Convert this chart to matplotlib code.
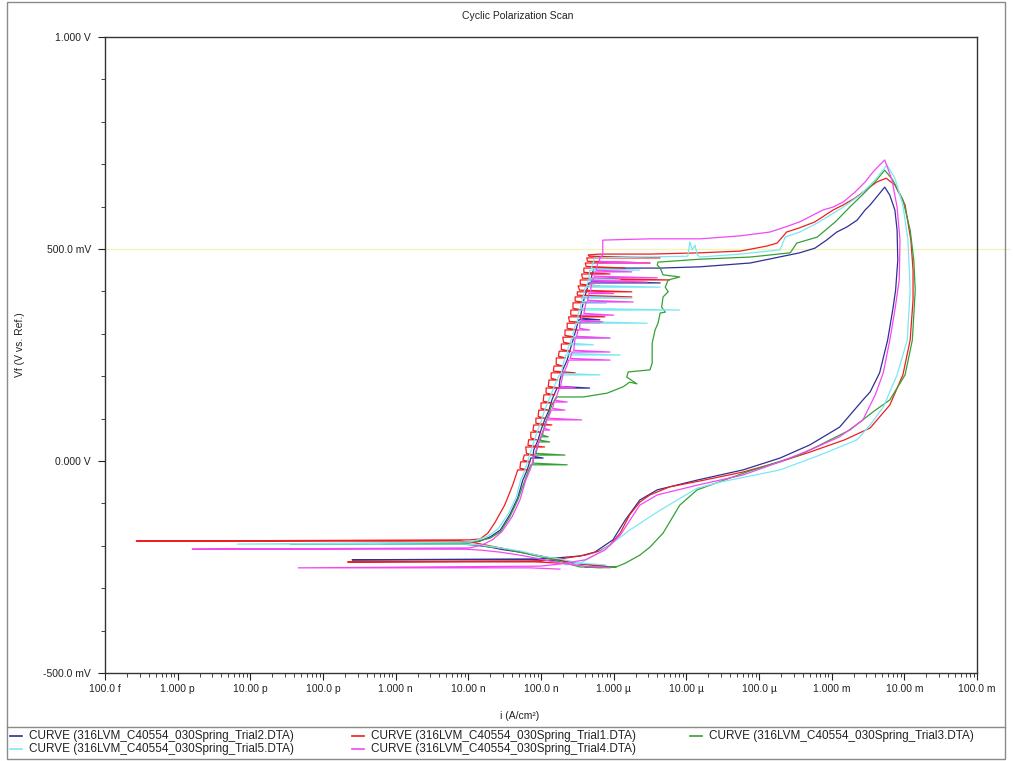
import numpy as np
import matplotlib
matplotlib.use("Agg")
import matplotlib.pyplot as plt
from matplotlib.lines import Line2D
from matplotlib.patches import Rectangle
from matplotlib.ticker import FixedLocator, FixedFormatter, LogLocator, NullFormatter, MultipleLocator

plt.rcParams['font.family'] = ['Liberation Sans', 'DejaVu Sans']

TITLE = "Cyclic Polarization Scan"
X_LABEL = "i (A/cm²)"
Y_LABEL = "Vf (V vs. Ref.)"

x_ticks = [1e-13, 1e-12, 1e-11, 1e-10, 1e-9, 1e-8, 1e-7, 1e-6, 1e-5, 1e-4, 1e-3, 1e-2, 1e-1]
x_tick_labels = ["100.0 f", "1.000 p", "10.00 p", "100.0 p", "1.000 n", "10.00 n", "100.0 n",
                 "1.000 µ", "10.00 µ", "100.0 µ", "1.000 m", "10.00 m", "100.0 m"]
y_ticks = [-0.5, 0.0, 0.5, 1.0]
y_tick_labels = ["-500.0 mV", "0.000 V", "500.0 mV", "1.000 V"]
marker_potential = 0.5

# Scans as (log10 current density [A/cm²], potential [V]) pairs, forward sweep then reverse.
trial2_scan = [
    (-6.01, -0.250), (-6.33, -0.245), (-6.57, -0.241), (-6.81, -0.231), (-7.01, -0.224), (-7.29, -0.215),
    (-7.56, -0.208), (-7.70, -0.203), (-7.91, -0.198), (-8.05, -0.196), (-9.19, -0.196), (-7.98, -0.193),
    (-7.84, -0.189), (-7.70, -0.179), (-7.56, -0.163), (-7.43, -0.127), (-7.32, -0.087), (-7.25, -0.045),
    (-7.19, -0.021), (-7.14, 0.007), (-6.97, 0.007), (-7.11, 0.011), (-7.10, 0.026), (-7.04, 0.050),
    (-7.00, 0.073), (-6.95, 0.097), (-6.89, 0.120), (-6.85, 0.144), (-6.78, 0.172), (-6.33, 0.172),
    (-6.75, 0.176), (-6.74, 0.191), (-6.70, 0.215), (-6.64, 0.238), (-6.60, 0.262), (-6.56, 0.285),
    (-6.52, 0.309), (-6.48, 0.333), (-6.19, 0.333), (-6.46, 0.337), (-6.44, 0.356), (-6.41, 0.380),
    (-6.37, 0.403), (-6.34, 0.420), (-5.36, 0.420), (-6.31, 0.424), (-6.30, 0.439), (-6.27, 0.455),
    (-5.91, 0.455), (-5.36, 0.455), (-4.81, 0.458), (-4.12, 0.467), (-3.44, 0.491), (-3.23, 0.502),
    (-3.07, 0.521), (-2.93, 0.540), (-2.79, 0.552), (-2.65, 0.568), (-2.54, 0.592), (-2.47, 0.604),
    (-2.36, 0.627), (-2.27, 0.646),
    (-2.20, 0.627), (-2.13, 0.592), (-2.10, 0.545), (-2.09, 0.474), (-2.12, 0.403), (-2.16, 0.356),
    (-2.23, 0.285), (-2.34, 0.208), (-2.47, 0.163), (-2.57, 0.144), (-2.89, 0.080), (-3.30, 0.038),
    (-3.71, 0.007), (-4.22, -0.021), (-4.85, -0.045), (-5.40, -0.068), (-5.64, -0.092), (-5.84, -0.139),
    (-6.01, -0.186), (-6.26, -0.215), (-6.46, -0.224), (-6.81, -0.229), (-7.08, -0.231), (-9.60, -0.233),
    (-7.15, -0.233), (-6.74, -0.236),
]

trial1_scan = [
    (-6.12, -0.248), (-6.53, -0.241), (-6.95, -0.226), (-7.36, -0.212), (-7.63, -0.203), (-7.91, -0.193),
    (-8.11, -0.189), (-12.57, -0.189), (-7.98, -0.186), (-7.84, -0.184), (-7.73, -0.170), (-7.63, -0.144),
    (-7.50, -0.104), (-7.39, -0.057),
    (-7.32, -0.021), (-7.18, -0.021), (-7.29, -0.017), (-7.28, -0.002), (-7.15, -0.002), (-7.25, 0.002),
    (-7.23, 0.014), (-7.11, 0.014), (-7.20, 0.018), (-7.21, 0.033), (-6.95, 0.033), (-7.18, 0.037),
    (-7.17, 0.050), (-7.06, 0.050), (-7.14, 0.054), (-7.14, 0.068), (-7.01, 0.068), (-7.11, 0.072),
    (-7.10, 0.085), (-6.85, 0.085), (-7.07, 0.089), (-7.07, 0.101), (-6.95, 0.101), (-7.04, 0.105),
    (-7.03, 0.120), (-6.90, 0.120), (-7.00, 0.124), (-7.00, 0.137), (-6.85, 0.137), (-6.97, 0.141),
    (-6.96, 0.156), (-6.81, 0.156), (-6.93, 0.160), (-6.93, 0.172), (-6.74, 0.172), (-6.90, 0.176),
    (-6.89, 0.191), (-6.77, 0.191), (-6.86, 0.195), (-6.86, 0.208), (-6.53, 0.208), (-6.83, 0.212),
    (-6.82, 0.224), (-6.70, 0.224), (-6.79, 0.228), (-6.79, 0.243), (-6.66, 0.243), (-6.76, 0.247),
    (-6.75, 0.259), (-6.59, 0.259), (-6.72, 0.263), (-6.72, 0.276), (-6.57, 0.276), (-6.69, 0.280),
    (-6.70, 0.292), (-6.50, 0.292), (-6.67, 0.296), (-6.67, 0.309), (-6.49, 0.309), (-6.64, 0.313),
    (-6.64, 0.325), (-6.19, 0.325), (-6.61, 0.329), (-6.62, 0.340), (-6.12, 0.340), (-6.59, 0.344),
    (-6.59, 0.356), (-6.42, 0.356), (-6.56, 0.360), (-6.56, 0.373), (-6.33, 0.373), (-6.53, 0.377),
    (-6.53, 0.387), (-5.75, 0.387), (-6.50, 0.391), (-6.50, 0.399), (-5.75, 0.399), (-6.47, 0.403),
    (-6.49, 0.413), (-6.19, 0.413), (-6.46, 0.417), (-6.46, 0.427), (-5.23, 0.427), (-6.43, 0.431),
    (-6.44, 0.441), (-6.05, 0.441), (-6.41, 0.445), (-6.41, 0.455), (-5.84, 0.455), (-6.38, 0.459),
    (-6.39, 0.467), (-5.50, 0.467), (-6.36, 0.471), (-6.37, 0.479), (-5.36, 0.479), (-6.34, 0.483),
    (-6.35, 0.486), (-6.19, 0.488), (-5.50, 0.488), (-4.81, 0.491), (-4.26, 0.495), (-3.89, 0.507),
    (-3.75, 0.514), (-3.62, 0.540), (-3.44, 0.550), (-3.23, 0.564), (-2.98, 0.592), (-2.84, 0.604),
    (-2.68, 0.620), (-2.53, 0.639), (-2.38, 0.658), (-2.25, 0.667),
    (-2.13, 0.651), (-1.99, 0.604), (-1.91, 0.521), (-1.88, 0.450), (-1.88, 0.380), (-1.92, 0.285),
    (-2.02, 0.203), (-2.20, 0.132), (-2.47, 0.078), (-2.82, 0.050), (-3.30, 0.021), (-3.71, -0.002),
    (-4.22, -0.026), (-4.81, -0.047), (-5.23, -0.061), (-5.50, -0.080), (-5.64, -0.097), (-5.78, -0.127),
    (-5.91, -0.170), (-6.05, -0.198), (-6.19, -0.212), (-6.39, -0.222), (-6.74, -0.231), (-7.01, -0.236),
    (-9.66, -0.238), (-7.08, -0.238), (-6.74, -0.241),
]

trial3_scan = [
    (-5.97, -0.250), (-6.19, -0.250), (-6.46, -0.250), (-6.57, -0.245), (-6.81, -0.233), (-7.01, -0.226),
    (-7.29, -0.215), (-7.56, -0.205), (-7.70, -0.203), (-7.91, -0.198), (-8.11, -0.196), (-10.45, -0.196),
    (-8.05, -0.193), (-7.87, -0.189), (-7.70, -0.182), (-7.56, -0.167), (-7.43, -0.132), (-7.32, -0.092),
    (-7.22, -0.045), (-7.17, -0.021),
    (-7.14, -0.009), (-6.64, -0.009), (-7.11, -0.005), (-7.10, 0.014), (-6.67, 0.014), (-7.07, 0.018),
    (-7.03, 0.045), (-6.88, 0.045), (-7.01, 0.049), (-7.00, 0.057), (-6.90, 0.057), (-6.98, 0.061),
    (-6.95, 0.085), (-6.90, 0.108), (-6.85, 0.132), (-6.79, 0.151),
    (-6.42, 0.151), (-6.09, 0.160), (-5.87, 0.175), (-5.78, 0.186), (-5.68, 0.182), (-5.82, 0.198),
    (-5.80, 0.210), (-5.50, 0.215), (-5.47, 0.231), (-5.47, 0.278), (-5.43, 0.309), (-5.39, 0.325),
    (-5.36, 0.349), (-5.29, 0.351), (-5.34, 0.363), (-5.32, 0.387), (-5.25, 0.399), (-5.29, 0.410),
    (-5.25, 0.427), (-5.09, 0.434), (-5.32, 0.439), (-5.36, 0.455), (-5.40, 0.462), (-5.39, 0.469),
    (-4.81, 0.476), (-4.12, 0.481), (-3.57, 0.491), (-3.48, 0.514), (-3.20, 0.528), (-2.95, 0.564),
    (-2.75, 0.599), (-2.54, 0.634), (-2.38, 0.663), (-2.27, 0.686),
    (-2.16, 0.663), (-2.02, 0.616), (-1.92, 0.545), (-1.87, 0.474), (-1.85, 0.403), (-1.89, 0.285),
    (-1.99, 0.203), (-2.20, 0.144), (-2.43, 0.116), (-2.75, 0.073), (-3.44, 0.014), (-4.17, -0.026),
    (-4.85, -0.068), (-5.09, -0.104), (-5.32, -0.170), (-5.50, -0.203), (-5.64, -0.222), (-5.84, -0.241),
    (-5.97, -0.250), (-6.19, -0.252), (-6.39, -0.250),
]

trial5_scan = [
    (-6.12, -0.245), (-6.46, -0.241), (-6.74, -0.231), (-7.01, -0.224), (-7.29, -0.212), (-7.56, -0.205),
    (-7.84, -0.198), (-8.05, -0.196), (-11.18, -0.196), (-7.98, -0.191), (-7.87, -0.186), (-7.73, -0.177),
    (-7.59, -0.160), (-7.45, -0.125), (-7.34, -0.085), (-7.28, -0.045), (-7.22, -0.021), (-7.17, 0.007),
    (-7.11, 0.038), (-7.06, 0.066), (-7.00, 0.092), (-6.95, 0.120), (-6.88, 0.149), (-6.81, 0.179),
    (-6.75, 0.203), (-6.19, 0.203), (-6.72, 0.207), (-6.70, 0.226), (-6.66, 0.250), (-5.91, 0.250),
    (-6.64, 0.254), (-6.62, 0.274), (-6.28, 0.274), (-6.60, 0.278), (-6.58, 0.290), (-6.05, 0.290),
    (-6.55, 0.294), (-6.56, 0.302), (-6.52, 0.325), (-5.54, 0.325), (-6.50, 0.329), (-6.48, 0.356),
    (-5.09, 0.356), (-6.46, 0.360), (-6.45, 0.372), (-6.10, 0.372), (-6.43, 0.376), (-6.44, 0.384),
    (-5.75, 0.384), (-6.42, 0.388), (-6.39, 0.410), (-5.36, 0.410), (-6.37, 0.414), (-6.35, 0.427),
    (-5.91, 0.427), (-6.34, 0.431), (-6.33, 0.450), (-5.64, 0.450), (-6.31, 0.454), (-6.28, 0.469),
    (-6.26, 0.479), (-5.64, 0.481), (-4.98, 0.483), (-4.95, 0.517), (-4.92, 0.498), (-4.88, 0.509),
    (-4.85, 0.486), (-4.81, 0.481), (-4.26, 0.488), (-3.71, 0.498), (-3.64, 0.528), (-3.44, 0.540),
    (-3.20, 0.561), (-3.02, 0.580), (-2.84, 0.599), (-2.61, 0.627), (-2.40, 0.663), (-2.24, 0.698),
    (-2.13, 0.667), (-2.02, 0.604), (-1.95, 0.521), (-1.92, 0.403), (-1.96, 0.285), (-2.10, 0.203),
    (-2.29, 0.127), (-2.47, 0.085), (-2.65, 0.050), (-3.16, 0.014), (-3.71, -0.021), (-4.54, -0.050),
    (-4.85, -0.064), (-5.36, -0.116), (-5.78, -0.163), (-6.05, -0.198), (-6.26, -0.222), (-6.46, -0.241),
    (-6.67, -0.245),
]

trial4_scan = [
    (-6.05, -0.252), (-6.39, -0.248), (-6.74, -0.241), (-7.01, -0.231), (-7.29, -0.222), (-7.56, -0.215),
    (-7.84, -0.210), (-8.05, -0.208), (-11.80, -0.208), (-7.98, -0.205), (-7.81, -0.198), (-7.67, -0.186),
    (-7.54, -0.167), (-7.40, -0.132), (-7.29, -0.092), (-7.21, -0.045), (-7.15, -0.021), (-7.10, 0.007),
    (-7.03, 0.045), (-6.97, 0.073), (-6.88, 0.073), (-6.95, 0.077), (-6.92, 0.097), (-6.44, 0.097),
    (-6.90, 0.101), (-6.86, 0.120), (-6.67, 0.120), (-6.84, 0.124), (-6.82, 0.139), (-6.64, 0.139),
    (-6.80, 0.143), (-6.75, 0.172), (-6.53, 0.172), (-6.73, 0.176), (-6.70, 0.203), (-6.64, 0.226),
    (-6.62, 0.238), (-6.05, 0.238), (-6.60, 0.242), (-6.57, 0.257), (-6.05, 0.257), (-6.55, 0.261),
    (-6.53, 0.290), (-6.05, 0.290), (-6.51, 0.294), (-6.49, 0.309), (-6.33, 0.309), (-6.47, 0.313),
    (-6.46, 0.328), (-6.15, 0.328), (-6.44, 0.332), (-6.44, 0.344), (-6.00, 0.344), (-6.41, 0.348),
    (-6.38, 0.375), (-5.73, 0.375), (-6.36, 0.379), (-6.34, 0.395), (-6.00, 0.395), (-6.32, 0.399),
    (-6.30, 0.422), (-5.54, 0.422), (-6.29, 0.426), (-6.28, 0.432), (-5.40, 0.432), (-6.27, 0.436),
    (-6.26, 0.446), (-5.75, 0.446), (-6.24, 0.450), (-6.22, 0.467), (-5.50, 0.467), (-6.20, 0.471),
    (-6.19, 0.479), (-6.15, 0.486), (-6.15, 0.521), (-5.50, 0.524), (-4.81, 0.524), (-4.26, 0.531),
    (-3.85, 0.540), (-3.67, 0.550), (-3.44, 0.564), (-3.12, 0.592), (-2.98, 0.599), (-2.84, 0.611),
    (-2.68, 0.634), (-2.54, 0.658), (-2.43, 0.682), (-2.34, 0.698), (-2.27, 0.710),
    (-2.17, 0.663), (-2.10, 0.599), (-2.06, 0.521), (-2.07, 0.427), (-2.13, 0.356), (-2.20, 0.285),
    (-2.29, 0.208), (-2.40, 0.156), (-2.57, 0.097), (-2.89, 0.057), (-3.30, 0.026), (-3.71, -0.002),
    (-4.22, -0.033), (-4.85, -0.057), (-5.40, -0.080), (-5.64, -0.104), (-5.91, -0.175), (-6.12, -0.210),
    (-6.39, -0.233), (-6.74, -0.243), (-7.01, -0.248), (-10.34, -0.252), (-7.15, -0.252), (-6.74, -0.255),
]

series_names = [
    "CURVE (316LVM_C40554_030Spring_Trial2.DTA)",
    "CURVE (316LVM_C40554_030Spring_Trial1.DTA)",
    "CURVE (316LVM_C40554_030Spring_Trial3.DTA)",
    "CURVE (316LVM_C40554_030Spring_Trial5.DTA)",
    "CURVE (316LVM_C40554_030Spring_Trial4.DTA)",
]
series_scans = [trial2_scan, trial1_scan, trial3_scan, trial5_scan, trial4_scan]
series_colors = ["#2f2f96", "#f01e1e", "#35a035", "#7ae8f2", "#f447f4"]

W, H = 1013, 761
fig = plt.figure(figsize=(W / 100, H / 100), dpi=100)


def fx(px):
    return px / W


def fy(py):
    return 1 - py / H


ax = fig.add_axes([fx(105), fy(673), fx(977) - fx(105), fy(37) - fy(673)])

# reference potential line
ax.axhline(marker_potential, xmin=0, xmax=1.037, color="#f3f3b8", lw=1.0, clip_on=False, zorder=1)

for scan, color in zip(series_scans, series_colors):
    log_i, volts = zip(*scan)
    ax.plot(np.power(10.0, np.array(log_i)), volts, color=color, lw=0.9, zorder=2)

ax.set_xscale("log")
ax.set_xlim(x_ticks[0], x_ticks[-1])
ax.set_ylim(y_ticks[0], y_ticks[-1])

ax.xaxis.set_major_locator(FixedLocator(x_ticks))
ax.xaxis.set_major_formatter(FixedFormatter(x_tick_labels))
ax.xaxis.set_minor_locator(LogLocator(base=10, subs=np.arange(2, 10), numticks=200))
ax.xaxis.set_minor_formatter(NullFormatter())
ax.yaxis.set_major_locator(FixedLocator(y_ticks))
ax.yaxis.set_major_formatter(FixedFormatter(y_tick_labels))
ax.yaxis.set_minor_locator(MultipleLocator(0.1))

ax.tick_params(which="major", direction="out", length=5, width=0.8, labelsize=7.5, colors="#222222")
ax.tick_params(which="minor", direction="out", length=3, width=0.6, colors="#222222")
ax.tick_params(axis="x", which="major", pad=3)
ax.tick_params(axis="y", which="major", pad=5)
for sp in ax.spines.values():
    sp.set_linewidth(1.0)
    sp.set_color("#333333")

fig.text(fx(518), fy(16), TITLE, ha="center", va="center", fontsize=7.5, color="#222222")
fig.text(fx(520), fy(716), X_LABEL, ha="center", va="center", fontsize=7.5, color="#222222")
fig.text(fx(20), fy(345), Y_LABEL, ha="center", va="center", rotation=90, fontsize=7.5, color="#222222")

# outer frame and legend strip
fig.add_artist(Rectangle((fx(7), fy(759)), fx(1005) - fx(7), fy(2) - fy(759), transform=fig.transFigure,
                         fill=False, edgecolor="#8a8a8a", lw=1.0))
fig.add_artist(Line2D([fx(7), fx(1005)], [fy(727), fy(727)], transform=fig.transFigure, color="#8a8a8a", lw=1.0))

col_x = [10, 352, 690]
row_y = [736, 749]
for k, (name, color) in enumerate(zip(series_names, series_colors)):
    cx, ry = col_x[k % 3], row_y[k // 3]
    fig.add_artist(Line2D([fx(cx), fx(cx + 12)], [fy(ry), fy(ry)], transform=fig.transFigure, color=color, lw=1.2))
    fig.text(fx(cx + 19), fy(ry), name, ha="left", va="center", fontsize=8.5, color="#222222")

fig.savefig("out.png", dpi=100)
